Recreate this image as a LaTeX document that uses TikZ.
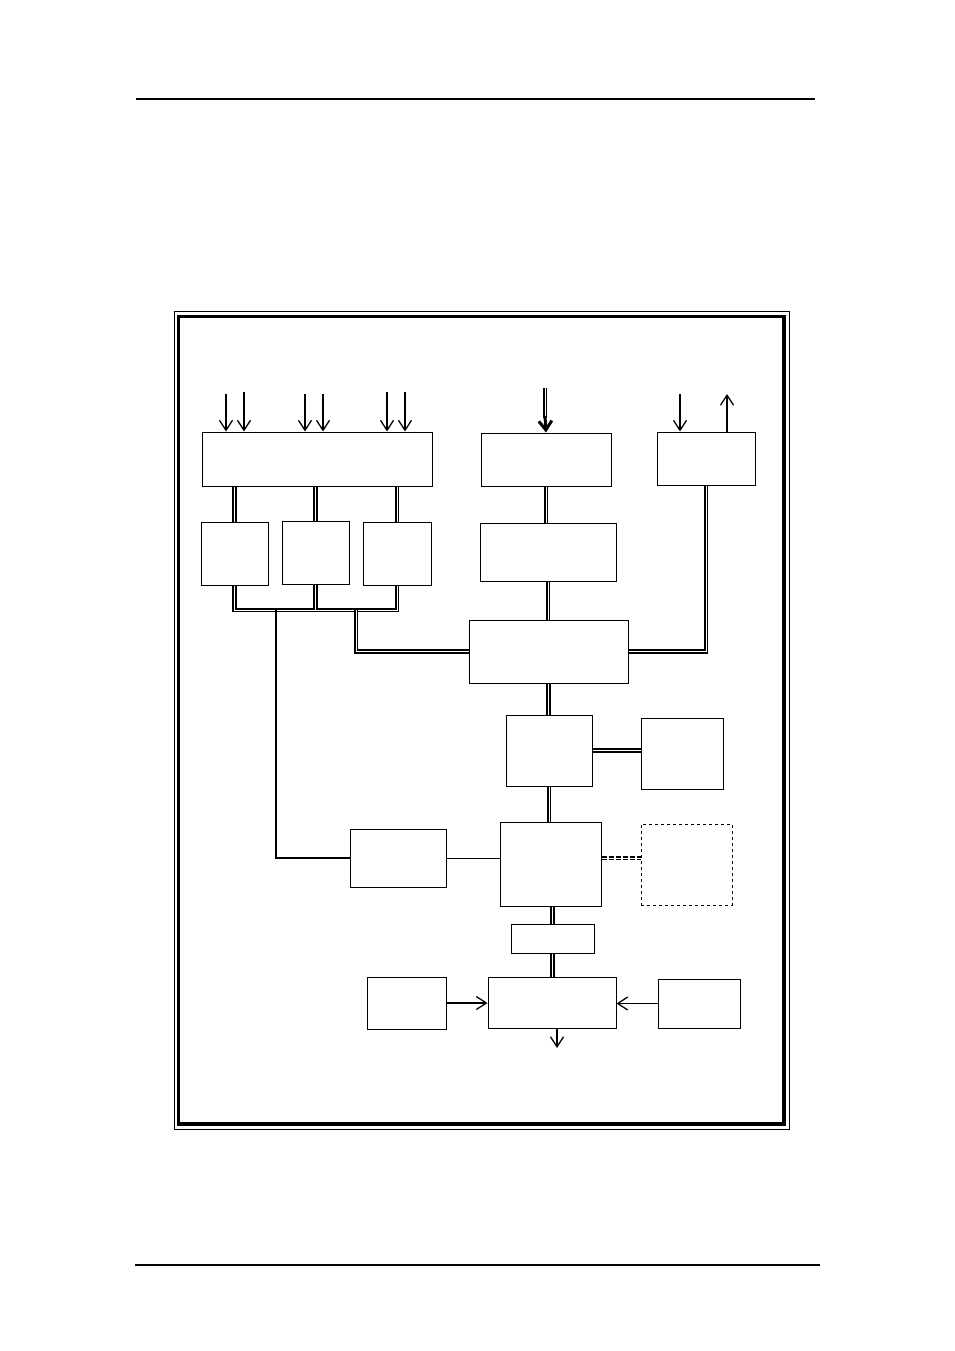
\documentclass[tikz,border=0pt]{standalone}
\usetikzlibrary{arrows.meta}
\tikzstyle{blk} = [rectangle, draw=black, line width=1pt, inner sep=0pt]
\tikzstyle{arrow} = [line width=1.3pt, -{Straight Barb[length=10pt,width=13pt]}]
\tikzstyle{fatarrow} = [line width=3pt, -{Straight Barb[length=9pt,width=13pt]}]
\tikzstyle{dbl} = [double, line width=1.7pt, double distance=1pt]
\tikzstyle{wire} = [line width=1.8pt]

\begin{document}
\begin{tikzpicture}[x=1pt, y=-1pt]
\useasboundingbox (0,0) rectangle (954,1351);
% page rules
\draw [line width=1.1pt] (136,99) -- (815,99);
\draw [line width=1.3pt] (135,1265) -- (820,1265);
% frame
\draw [line width=0.9pt] (174,311) rectangle (789,1129);
\draw [line width=3pt] (178,316) rectangle (784,1124);
\draw [line width=4.5pt] (784,316) -- (784,1124) -- (178,1124);

% blocks
\node (inputs) [blk, minimum width=230, minimum height=54] at (317,459) {};
\node (recv) [blk, minimum width=130, minimum height=53] at (546,459.5) {};
\node (port) [blk, minimum width=98, minimum height=53] at (706,458.5) {};
\node (ch1) [blk, minimum width=67, minimum height=63] at (234.5,553.5) {};
\node (ch2) [blk, minimum width=67, minimum height=63] at (315.5,552.5) {};
\node (ch3) [blk, minimum width=68, minimum height=63] at (397,553.5) {};
\node (conv) [blk, minimum width=136, minimum height=58] at (548,552) {};
\node (core) [blk, minimum width=159, minimum height=63] at (548.5,651.5) {};
\node (proc) [blk, minimum width=86, minimum height=71] at (549,750.5) {};
\node (store) [blk, minimum width=82, minimum height=71] at (682,753.5) {};
\node (aux) [blk, minimum width=96, minimum height=58] at (398,858) {};
\node (ctrl) [blk, minimum width=101, minimum height=84] at (550.5,864) {};
\node (opt) [blk, dashed, minimum width=91, minimum height=81] at (686.5,864.5) {};
\node (buf) [blk, minimum width=83, minimum height=29] at (552.5,938.5) {};
\node (mix) [blk, minimum width=128, minimum height=51] at (552,1002.5) {};
\node (src) [blk, minimum width=79, minimum height=52] at (406.5,1003) {};
\node (ref) [blk, minimum width=82, minimum height=49] at (699,1003.5) {};

% free ends
\coordinate (in1) at (226,394);
\coordinate (in2) at (244,392);
\coordinate (in3) at (305,394);
\coordinate (in4) at (323,394);
\coordinate (in5) at (387,392);
\coordinate (in6) at (405,392);
\coordinate (inr) at (545,388);
\coordinate (inrm) at (545,416);
\coordinate (inp) at (680,394);
\coordinate (outp) at (727,394);
\coordinate (busl) at (236,610);
\coordinate (tapa) at (276,610);
\coordinate (tapc) at (356,610);
\coordinate (outm) at (557,1048);

% inputs
\foreach \c in {in1,in2,in3,in4,in5,in6}
  \draw [arrow] (\c) -- (\c |- inputs.north);
\draw [dbl] (inr) -- ([yshift=-2]inrm);
\draw [fatarrow] (inrm) -- (recv.north);
\draw [arrow] (inp) -- (inp |- port.north);
\draw [arrow] (outp |- port.north) -- (outp);

% channel bus
\draw [dbl] (ch1.north) -- (ch1.north |- inputs.south);
\draw [dbl] (ch2.north) -- (ch2.north |- inputs.south);
\draw [dbl] (ch3.north) -- (ch3.north |- inputs.south);
\draw [dbl] (ch1.south) -- (ch1.south |- busl) -- (ch3.south |- busl) -- (ch3.south);
\draw [dbl] (ch2.south) -- (ch2.south |- busl);
\draw [wire] (tapa) |- (aux.west);
\draw [dbl] (tapc) |- (core.west);

% main chain
\draw [dbl] (recv.south) -- (recv.south |- conv.north);
\draw [dbl] (conv.south) -- (conv.south |- core.north);
\draw [dbl] (port.south) |- (core.east);
\draw [dbl] (core.south) -- (core.south |- proc.north);
\draw [dbl] (proc.east) -- (proc.east -| store.west);
\draw [dbl] (proc.south) -- (proc.south |- ctrl.north);
\draw [line width=1pt] (aux.east) -- (aux.east -| ctrl.west);
\draw [dbl, dash pattern=on 5pt off 2pt] (aux.east -| ctrl.east) -- (aux.east -| opt.west);
\draw [dbl] (ctrl.south -| buf.north) -- (buf.north);
\draw [dbl] (buf.south) -- (buf.south |- mix.north);

% output stage
\draw [arrow] (src.east) -- (src.east -| mix.west);
\draw [arrow] (ref.west) -- (ref.west -| mix.east);
\draw [arrow] (mix.south -| outm) -- (outm);
\end{tikzpicture}
\end{document}
